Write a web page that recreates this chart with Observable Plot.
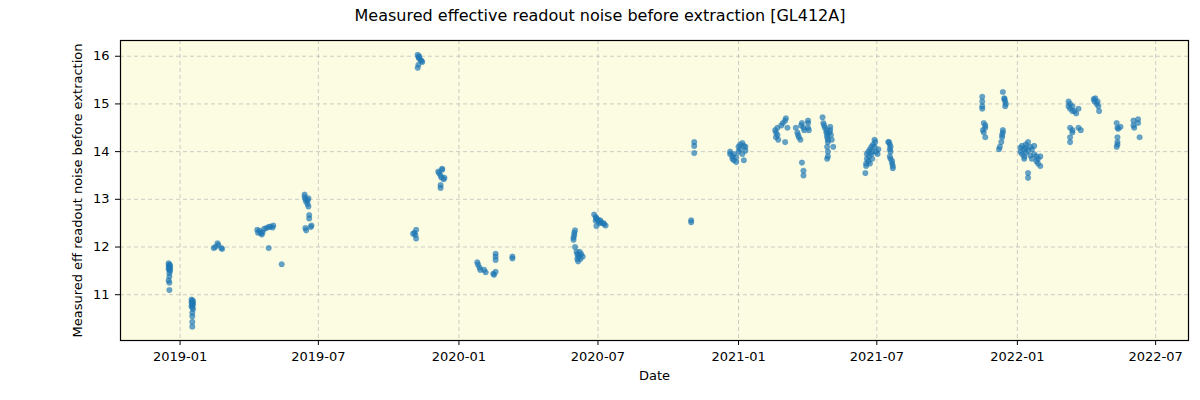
<!DOCTYPE html>
<html>
<head>
<meta charset="utf-8">
<script src="https://cdn.jsdelivr.net/npm/d3@7"></script>
<script src="https://cdn.jsdelivr.net/npm/@observablehq/plot@0.6"></script>
<style>
  html, body { margin: 0; padding: 0; background: #ffffff; }
  #title { width: 1200px; height: 30px; line-height: 32px; text-align: center;
           font-family: "DejaVu Sans", sans-serif; font-size: 16px; color: #000; }
  svg { display: block; }
</style>
</head>
<body>
<div id="title">Measured effective readout noise before extraction [GL412A]</div>
<div id="chart"></div>
<script>
// Observation dates (one per measurement)
const obsDate = [
  "2018-12-17","2018-12-18","2018-12-19","2018-12-17","2018-12-18","2018-12-19","2018-12-17","2018-12-18","2018-12-19","2018-12-18","2018-12-18","2018-12-17","2018-12-18","2018-12-18",
  "2019-01-16","2019-01-17","2019-01-18","2019-01-16","2019-01-17","2019-01-18","2019-01-17","2019-01-16","2019-01-17","2019-01-18","2019-01-17","2019-01-17","2019-01-17","2019-01-17",
  "2019-02-14","2019-02-16","2019-02-19","2019-02-20","2019-02-24","2019-02-25",
  "2019-04-12","2019-04-13","2019-04-15","2019-04-17","2019-04-18","2019-04-19","2019-04-21","2019-04-24","2019-04-27","2019-04-29","2019-05-02","2019-05-03","2019-04-27","2019-05-14",
  "2019-06-13","2019-06-13","2019-06-14","2019-06-15","2019-06-17","2019-06-17","2019-06-18","2019-06-18","2019-06-19","2019-06-19","2019-06-14","2019-06-15","2019-06-22","2019-06-21",
  "2019-11-08","2019-11-09","2019-11-10","2019-11-12","2019-11-13","2019-11-14","2019-11-10","2019-11-09","2019-11-08",
  "2019-11-02","2019-11-04","2019-11-05","2019-11-06","2019-11-06",
  "2019-12-05","2019-12-06","2019-12-08","2019-12-09","2019-12-10","2019-12-12","2019-12-13","2019-12-08","2019-12-08","2019-12-10",
  "2020-01-25","2020-01-26","2020-01-28","2020-01-29","2020-02-03","2020-02-05","2020-02-15","2020-02-16","2020-02-18","2020-02-18","2020-02-18","2020-02-18","2020-03-11","2020-03-11",
  "2020-05-30","2020-05-30","2020-05-31","2020-05-31","2020-06-01","2020-06-01","2020-06-03","2020-06-04","2020-06-05","2020-06-07","2020-06-08","2020-06-05","2020-06-09","2020-06-11","2020-06-04","2020-06-07",
  "2020-06-26","2020-06-28","2020-06-29","2020-06-30","2020-07-02","2020-07-03","2020-07-04","2020-07-05","2020-07-08","2020-07-09","2020-07-11","2020-06-29","2020-06-28",
  "2020-10-31","2020-10-31","2020-11-04","2020-11-04","2020-11-04",
  "2020-12-21","2020-12-21","2020-12-24","2020-12-24","2020-12-26","2020-12-26","2020-12-29","2020-12-29","2021-01-01","2021-01-01","2021-01-03","2021-01-03","2021-01-06","2021-01-06","2021-01-08","2021-01-08","2021-01-10","2021-01-10",
  "2021-02-18","2021-02-19","2021-02-19","2021-02-21","2021-02-22","2021-02-21","2021-02-26","2021-02-28","2021-03-03","2021-03-04","2021-03-03","2021-03-06",
  "2021-03-17","2021-03-19","2021-03-20","2021-03-21","2021-03-23","2021-03-24","2021-03-25","2021-03-27","2021-03-28","2021-04-02","2021-04-02","2021-04-02","2021-04-03","2021-03-25","2021-03-27","2021-03-27",
  "2021-04-21","2021-04-22","2021-04-23","2021-04-24","2021-04-26","2021-04-26","2021-04-27","2021-04-27","2021-04-28","2021-04-28","2021-04-27","2021-04-28","2021-04-28","2021-04-27","2021-05-01","2021-05-02","2021-05-03","2021-05-05","2021-04-30","2021-05-01",
  "2021-06-16","2021-06-17","2021-06-17","2021-06-18","2021-06-18","2021-06-20","2021-06-20","2021-06-21","2021-06-22","2021-06-22","2021-06-24","2021-06-24","2021-06-25","2021-06-25","2021-06-26","2021-06-28","2021-06-28","2021-06-29","2021-06-30","2021-07-02","2021-07-03",
  "2021-07-17","2021-07-18","2021-07-19","2021-07-18","2021-07-19","2021-07-18","2021-07-19","2021-07-21","2021-07-21","2021-07-22","2021-07-22","2021-07-16",
  "2021-11-16","2021-11-16","2021-11-16","2021-11-16","2021-11-18","2021-11-20","2021-11-20","2021-11-17","2021-11-18","2021-11-20",
  "2021-12-13","2021-12-15","2021-12-15","2021-12-16","2021-12-17","2021-12-16","2021-12-09","2021-12-11","2021-12-12","2021-12-12","2021-12-13","2021-12-13","2021-12-08",
  "2022-01-05","2022-01-05","2022-01-07","2022-01-07","2022-01-10","2022-01-10","2022-01-12","2022-01-12","2022-01-15","2022-01-15","2022-01-15","2022-01-15","2022-01-18","2022-01-18","2022-01-20","2022-01-20","2022-01-23","2022-01-23","2022-01-26","2022-01-26","2022-01-28","2022-01-28","2022-01-31","2022-01-31","2022-01-10","2022-01-12",
  "2022-03-09","2022-03-09","2022-03-11","2022-03-11","2022-03-14","2022-03-14","2022-03-17","2022-03-19","2022-03-11","2022-03-14","2022-03-14","2022-03-11","2022-03-11","2022-03-22","2022-03-25","2022-03-22",
  "2022-04-11","2022-04-12","2022-04-13","2022-04-15","2022-04-16","2022-04-17","2022-04-18",
  "2022-05-11","2022-05-12","2022-05-13","2022-05-16","2022-05-12","2022-05-12","2022-05-11","2022-05-12",
  "2022-06-02","2022-06-02","2022-06-03","2022-06-08","2022-06-08","2022-06-10"
];
// Measured effective readout noise before extraction
const noise = [
  11.66,11.63,11.61,11.60,11.58,11.56,11.54,11.52,11.50,11.45,11.38,11.30,11.25,11.10,
  10.90,10.88,10.86,10.84,10.82,10.80,10.78,10.76,10.73,10.70,10.62,10.55,10.43,10.33,
  11.98,12.00,12.08,12.04,11.98,11.96,
  12.36,12.30,12.34,12.29,12.26,12.31,12.38,12.40,12.42,12.43,12.41,12.45,11.98,11.64,
  13.10,13.05,13.00,12.95,12.98,12.90,12.85,13.02,12.67,12.60,12.40,12.35,12.45,12.42,
  16.03,15.98,15.95,15.92,15.90,15.88,16.00,15.82,15.76,
  12.28,12.30,12.25,12.36,12.18,
  13.58,13.55,13.50,13.46,13.62,13.42,13.45,13.30,13.24,13.64,
  11.68,11.63,11.57,11.52,11.52,11.47,11.44,11.42,11.48,11.86,11.80,11.73,11.80,11.76,
  12.20,12.15,12.30,12.25,12.35,12.00,11.90,11.85,11.80,11.82,11.75,11.70,11.85,11.80,11.75,11.90,
  12.68,12.63,12.60,12.58,12.55,12.50,12.56,12.52,12.50,12.48,12.45,12.44,12.55,
  12.56,12.52,14.20,14.12,13.97,
  13.95,14.00,13.90,13.85,13.95,13.82,13.78,13.88,14.00,14.10,14.15,14.05,14.18,13.95,14.12,13.82,14.10,14.02,
  14.45,14.40,14.30,14.35,14.25,14.50,14.55,14.60,14.65,14.70,14.20,14.50,
  14.50,14.40,14.35,14.30,14.25,14.55,14.60,14.50,14.45,14.65,14.60,14.50,14.45,13.77,13.60,13.50,
  14.72,14.60,14.55,14.50,14.45,14.40,14.35,14.30,14.25,14.20,14.10,14.00,13.90,13.85,14.45,14.35,14.25,14.10,14.40,14.52,
  13.55,13.70,13.75,13.85,13.95,14.00,13.80,13.90,14.05,13.75,14.10,13.95,14.00,13.85,14.15,14.25,14.10,14.20,14.00,13.95,14.05,
  14.20,14.15,14.10,14.05,14.00,13.90,13.85,13.80,13.75,13.70,13.65,14.20,
  15.15,15.05,14.95,14.90,14.60,14.55,14.50,14.45,14.40,14.30,
  15.25,15.12,15.10,15.05,15.00,14.95,14.10,14.20,14.30,14.35,14.40,14.45,14.05,
  14.08,14.00,13.95,14.12,14.05,13.90,14.15,13.98,14.20,14.02,13.55,13.45,14.10,13.92,14.05,13.85,14.12,13.95,13.90,13.80,13.85,13.75,13.90,13.70,13.85,14.08,
  15.05,14.95,15.00,14.90,14.85,14.95,14.85,14.80,14.50,14.45,14.40,14.30,14.20,14.50,14.45,14.90,
  15.10,15.05,15.12,15.00,15.05,14.95,14.85,
  14.60,14.50,14.48,14.52,14.30,14.20,14.10,14.15,
  14.65,14.55,14.50,14.68,14.60,14.30
];
const xTickLabels = ["2019-01","2019-07","2020-01","2020-07","2021-01","2021-07","2022-01","2022-07"];
const yTickValues = [11, 12, 13, 14, 15, 16];

const data = obsDate.map((d, i) => ({date: new Date(d + "T00:00:00Z"), value: noise[i]}));
const xTicks = xTickLabels.map(s => new Date(s + "-01T00:00:00Z"));

const chart = Plot.plot({
  width: 1200,
  height: 370,
  marginTop: 10,
  marginLeft: 120,
  marginRight: 12,
  marginBottom: 60,
  style: {fontFamily: "'DejaVu Sans', sans-serif", fontSize: "13px", color: "#000", background: "#fff"},
  x: {type: "utc", domain: [new Date("2018-10-15T00:00:00Z"), new Date("2022-08-13T00:00:00Z")]},
  y: {domain: [10.04, 16.33]},
  marks: [
    Plot.frame({fill: "#fcfce3", stroke: null}),
    Plot.gridX({ticks: xTicks, stroke: "#b8b8b8", strokeOpacity: 0.7, strokeDasharray: "4,3"}),
    Plot.gridY({ticks: yTickValues, stroke: "#b8b8b8", strokeOpacity: 0.7, strokeDasharray: "4,3"}),
    Plot.dot(data, {x: "date", y: "value", r: 2.8, fill: "#1f77b4", fillOpacity: 0.68, stroke: "#1f77b4", strokeOpacity: 0.4, strokeWidth: 0.5}),
    Plot.frame({stroke: "#000", strokeWidth: 1.2}),
    Plot.axisX({ticks: xTicks, tickFormat: d3.utcFormat("%Y-%m"), tickSize: 5, tickPadding: 6,
                label: "Date", labelAnchor: "center", labelOffset: 39, labelArrow: "none"}),
    Plot.axisY({ticks: yTickValues, tickFormat: d => String(d), tickSize: 5, tickPadding: 6,
                label: "Measured eff readout noise before extraction", labelAnchor: "center", labelOffset: 48, labelArrow: "none"})
  ]
});
document.getElementById("chart").appendChild(chart);
</script>
</body>
</html>
